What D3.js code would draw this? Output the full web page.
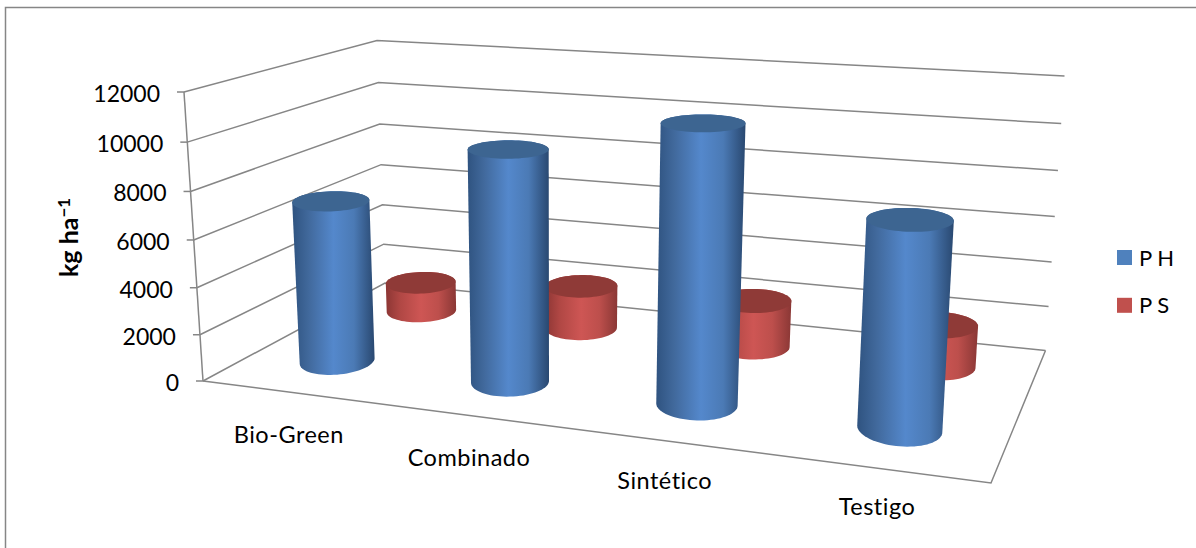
<!DOCTYPE html>
<html lang="es">
<head>
<meta charset="utf-8">
<script src="https://cdn.jsdelivr.net/npm/d3@7/dist/d3.min.js"></script>
<style>
  html, body { margin: 0; padding: 0; background: #fff; }
  svg { display: block; }
  text { font-family: Lato, "Open Sans", sans-serif; fill: #000; font-variant-ligatures: none; }
</style>
</head>
<body>
<svg id="chart" width="1196" height="548"></svg>
<script>
// Yield per treatment, kg/ha
const categories = ["Bio-Green", "Combinado", "Sintético", "Testigo"];
const seriesNames = ["P H", "P S"];
const valuesPH = [6990, 9720, 11270, 8170];
const valuesPS = [1370, 1970, 2080, 1820];
const yTicks = [0, 2000, 4000, 6000, 8000, 10000, 12000];
const axisMax = 12000;

// Box of the 3D plot: floor and ceiling corners (front-left, front-right, back-right, back-left)
const floorQuad = [[203, 381], [991, 483], [1045.5, 350.5], [385, 283]];
const ceilQuad = [[184, 92], [1011, 145.5], [1064.5, 76], [377, 40.5]];
const heightWeight = 0.953;      // foreshortening along the vertical
const depthOfSeries = [0.265, 0.765];
const radiusU = 0.05, radiusW = 0.125;
const tiltStrength = 0.21;

// Maps the unit square onto a quadrilateral
function squareToQuad(q) {
  const [[x0, y0], [x1, y1], [x2, y2], [x3, y3]] = q;
  const dx1 = x1 - x2, dx2 = x3 - x2, sx = x0 - x1 + x2 - x3;
  const dy1 = y1 - y2, dy2 = y3 - y2, sy = y0 - y1 + y2 - y3;
  const den = dx1 * dy2 - dx2 * dy1;
  const g = (sx * dy2 - dx2 * sy) / den, h = (dx1 * sy - sx * dy1) / den;
  const a = x1 - x0 + g * x1, b = x3 - x0 + h * x3;
  const d = y1 - y0 + g * y1, e = y3 - y0 + h * y3;
  return (u, w) => {
    const k = g * u + h * w + 1;
    return [(a * u + b * w + x0) / k, (d * u + e * w + y0) / k];
  };
}
const onFloor = squareToQuad(floorQuad), onCeil = squareToQuad(ceilQuad);

const valueScale = d3.scaleLinear().domain([0, axisMax]).range([0, 1]);
const categoryScale = d3.scaleBand().domain(categories).range([0, 1]);

// u: along categories, value: kg/ha, w: depth from front to back
function project(u, value, w) {
  const v = valueScale(value);
  const t = v * heightWeight / (1 - v + v * heightWeight);
  const a = onFloor(u, w), b = onCeil(u, w);
  return [a[0] + (b[0] - a[0]) * t, a[1] + (b[1] - a[1]) * t];
}

const svg = d3.select("#chart");
const defs = svg.append("defs");
const gridColor = "#868686";
const line = d3.line();

// Outer chart frame: left and top edges
svg.append("path").attr("d", "M5.5 548V7.5H1196").attr("fill", "none")
  .attr("stroke", gridColor).attr("stroke-width", 1.5);

// Walls and floor
const gridG = svg.append("g").attr("fill", "none").attr("stroke", gridColor).attr("stroke-width", 1.5);
yTicks.forEach(t => {
  gridG.append("path").attr("d", line([project(0, t, 0), project(0, t, 1), project(1, t, 1)]));
  const p = project(0, t, 0);
  gridG.append("path").attr("d", line([[p[0] - 7, p[1]], p]));
});
gridG.append("path").attr("d", line([project(0, 0, 0), project(0, axisMax, 0)]));
gridG.append("path").attr("d", line([project(0, 0, 0), project(1, 0, 0), project(1, 0, 1)]));

// Value labels
svg.append("g").selectAll("text").data(yTicks).join("text")
  .attr("x", d => project(0, d, 0)[0] - 24)
  .attr("y", d => project(0, d, 0)[1] + 4)
  .attr("text-anchor", "end").attr("dominant-baseline", "middle")
  .attr("font-size", 23).text(d => d);

// Axis title
const title = svg.append("text")
  .attr("transform", "translate(78,277) rotate(-90)")
  .attr("font-size", 25).attr("font-weight", 700);
title.append("tspan").text("kg ha");
title.append("tspan").attr("dy", -8).attr("font-size", 17).text("−1");

// Side and cap shading for each series
const shades = [
  { stops: ["#2f5380", "#41699c", "#5488cc", "#4b7ab5", "#294870"], cap: "#3d6591" },
  { stops: ["#8c3634", "#b04744", "#ce5654", "#bd4f4c", "#8a3735"], cap: "#8f3a37" }
];
const stopAt = [0, 0.2, 0.5, 0.75, 1];
shades.forEach((s, i) => {
  const g = defs.append("linearGradient").attr("id", "side" + i);
  s.stops.forEach((c, k) => g.append("stop").attr("offset", stopAt[k]).attr("stop-color", c));
});

// Cylinders, back row first so that the front row overlaps it
const angles = d3.range(0, 2 * Math.PI, Math.PI / 36);
const rows = [
  { s: 1, values: valuesPS },
  { s: 0, values: valuesPH }
];
rows.forEach(row => {
  const g = svg.append("g").attr("class", "series-" + row.s);
  categories.forEach((cat, i) => {
    const band = categoryScale(cat) + categoryScale.bandwidth() / 2;
    // Columns further left are a little wider and sit a little left of the band centre
    const uc = band - (0.0006 + (0.875 - band) * 0.004);
    const ru = radiusU * (1.01 + (0.875 - band) * 0.16);
    const wc = depthOfSeries[row.s];
    // Screen ellipse at a given height: its axes come from the projected radii,
    // and it leans according to how far it is from the chart's centre and the floor
    const ring = value => {
      const c = project(uc, value, wc);
      const rx = (project(uc + ru, value, wc)[0] - project(uc - ru, value, wc)[0]) / 2;
      const ry = Math.abs(project(uc, value, wc + radiusW)[1] - project(uc, value, wc - radiusW)[1]) / 2;
      const tilt = tiltStrength * (band - 0.5) * (1 - valueScale(value)) * (1.25 - wc);
      return angles.map(a => [
        c[0] + rx * Math.cos(a),
        c[1] + ry * Math.sin(a) + tilt * rx * Math.cos(a)
      ]);
    };
    const bottom = ring(0), top = ring(row.values[i]);
    g.append("path").attr("d", line(d3.polygonHull(bottom.concat(top))) + "Z")
      .attr("fill", `url(#side${row.s})`);
    g.append("path").attr("d", line(top) + "Z").attr("fill", shades[row.s].cap);
  });
});

// Category labels sit under the front edge, each with its own nudge
const labelNudge = [[1, 45], [1, 45], [1, 42], [0, 41]];
svg.append("g").selectAll("text").data(categories).join("text")
  .attr("x", (d, i) => project(categoryScale(d) + categoryScale.bandwidth() / 2, 0, 0)[0] + labelNudge[i][0])
  .attr("y", (d, i) => project(categoryScale(d) + categoryScale.bandwidth() / 2, 0, 0)[1] + labelNudge[i][1])
  .attr("text-anchor", "middle").attr("dominant-baseline", "middle")
  .attr("letter-spacing", 0.5)
  .attr("font-size", 23.5).text(d => d);

// Legend
const legend = svg.append("g").selectAll("g").data(seriesNames).join("g")
  .attr("transform", (d, i) => `translate(1117,${250 + i * 47.8})`);
legend.append("rect").attr("width", 15).attr("height", 15)
  .attr("fill", (d, i) => ["#4f81bd", "#c0504d"][i]);
legend.append("text").attr("x", 22).attr("y", 15.5).attr("font-size", 22).text(d => d);
</script>
</body>
</html>
